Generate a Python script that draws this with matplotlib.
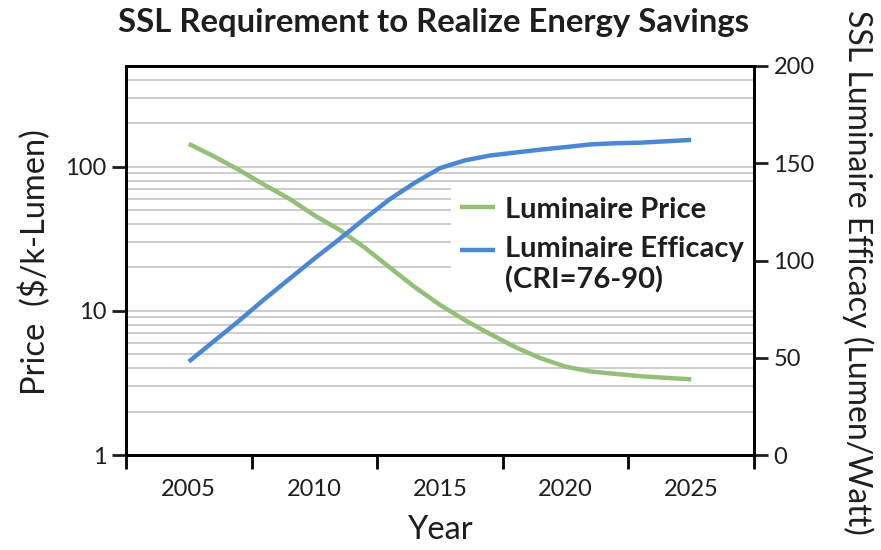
import matplotlib
matplotlib.use("Agg")
import matplotlib.pyplot as plt
from matplotlib.ticker import FixedLocator, NullFormatter, LogLocator, FixedFormatter

plt.rcParams['font.family'] = ['Lato', 'DejaVu Sans']

# Data
years = list(range(2005, 2026))
price = [144, 118, 95, 75, 60, 46, 36.5, 27.5, 20.0, 14.6, 11.0,
         8.6, 6.9, 5.6, 4.7, 4.1, 3.8, 3.65, 3.52, 3.43, 3.35]
efficacy = [48, 58.5, 69, 80, 90.5, 101, 111, 121.5, 131.5, 140, 147.5,
            151.5, 154, 155.5, 157, 158.3, 159.7, 160.3, 160.6, 161.3, 162]

year_labels = ["2005", "2010", "2015", "2020", "2025"]
label_years = [2005, 2010, 2015, 2020, 2025]
price_ticks = [1, 10, 100]
efficacy_ticks = [0, 50, 100, 150, 200]

GREEN = "#94bf78"
BLUE = "#4a88d4"
INK = "#1e1e1e"

fig = plt.figure(figsize=(8.81, 5.5), dpi=100)
ax = fig.add_axes([126 / 881, 95 / 550, 628 / 881, 389 / 550])
ax2 = ax.twinx()

# Price on logarithmic left axis
ax.set_yscale("log")
ax.set_ylim(1, 500)
ax.set_xlim(2002.5, 2027.5)
ax.plot(years, price, color=GREEN, lw=3.2, solid_capstyle="butt", label="Luminaire Price")

ax.yaxis.set_major_locator(FixedLocator(price_ticks))
ax.yaxis.set_major_formatter(FixedFormatter([str(t) for t in price_ticks]))
ax.yaxis.set_minor_locator(LogLocator(base=10, subs=range(2, 10), numticks=20))
ax.yaxis.set_minor_formatter(NullFormatter())
ax.grid(True, axis="y", which="both", color="#c9c9c9", lw=1.3)
ax.tick_params(axis="y", which="minor", length=0)
ax.tick_params(axis="y", which="major", direction="out", length=10, width=2,
               labelsize=17, colors=INK, pad=4)

# Year categories: ticks between labels
ax.set_xticks([2002.5 + 5 * i for i in range(6)])
ax.set_xticklabels([])
ax.set_xticks(label_years, minor=True)
ax.set_xticklabels(year_labels, minor=True)
ax.tick_params(axis="x", which="major", direction="out", length=10, width=2)
ax.tick_params(axis="x", which="minor", length=0, labelsize=17, colors=INK, pad=17)

# Efficacy on linear right axis
ax2.set_ylim(0, 200)
ax2.plot(years, efficacy, color=BLUE, lw=3.2, solid_capstyle="butt",
         label="Luminaire Efficacy\n(CRI=76-90)")
ax2.set_yticks(efficacy_ticks)
ax2.tick_params(axis="y", direction="out", length=10, width=2,
                labelsize=17, colors=INK, pad=4)

for a in (ax, ax2):
    for s in a.spines.values():
        s.set_linewidth(2)
        s.set_color("black")

ax.set_axisbelow(True)

ax.set_ylabel("Price  ($/k-Lumen)", fontsize=23.5, color=INK, va="center")
ax.yaxis.set_label_coords(-0.145, 0.496)
ax.set_xlabel("Year", fontsize=23.5, color=INK, va="center")
ax.xaxis.set_label_coords(0.5016, -0.193)
ax2.set_ylabel("SSL Luminaire Efficacy (Lumen/Watt)", fontsize=23, color=INK,
               rotation=270, va="center")
ax2.yaxis.set_label_coords(1.166, 0.47)

fig.suptitle("SSL Requirement to Realize Energy Savings", fontsize=23.7,
             fontweight="bold", color=INK, x=433 / 881, y=0.985, va="top")

h1, l1 = ax.get_legend_handles_labels()
h2, l2 = ax2.get_legend_handles_labels()
leg = ax2.legend(h1 + h2, l1 + l2, loc="upper left", bbox_to_anchor=(0.518, 0.6865),
                 frameon=True, facecolor="white", edgecolor="none", framealpha=1,
                 fancybox=False, prop={"size": 21, "weight": "bold"},
                 handlelength=1.2, handletextpad=0.35, labelspacing=0.46,
                 borderpad=0.3, borderaxespad=0)
for t in leg.get_texts():
    t.set_color(INK)

# Put the efficacy key beside the first line of its two-line label
eff_line = leg.get_lines()[1]
eff_line.set_ydata([y + 11.2 for y in eff_line.get_ydata()])

fig.savefig("out.png", dpi=100)
